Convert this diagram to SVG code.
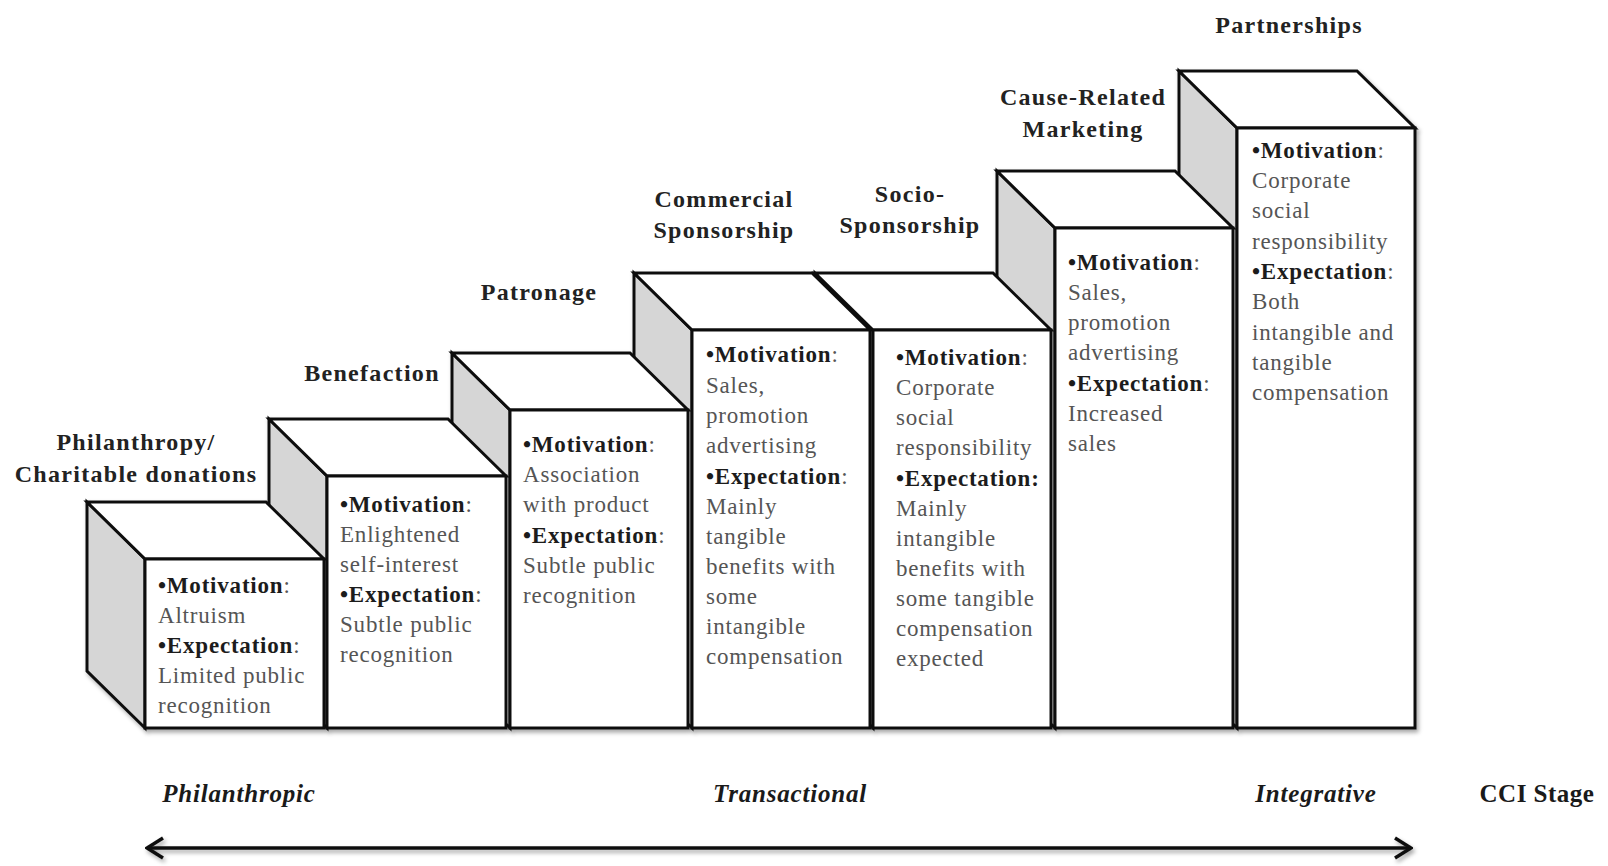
<svg xmlns="http://www.w3.org/2000/svg" width="1608" height="866" viewBox="0 0 1608 866">
<style>
.top{fill:#ffffff;stroke:#111;stroke-width:3;stroke-linejoin:miter}
.side{fill:#d6d6d6;stroke:#111;stroke-width:3}
.front{fill:#ffffff;stroke:#111;stroke-width:3}
.body{font-family:"Liberation Serif","Times New Roman",serif;font-size:23px;fill:#555;letter-spacing:0.8px}
.b{font-weight:bold;fill:#1c1c1c}
.title{font-family:"Liberation Serif","Times New Roman",serif;font-size:24px;font-weight:bold;fill:#222;letter-spacing:1.3px;text-anchor:middle}
.stage{font-family:"Liberation Serif","Times New Roman",serif;font-size:25px;font-weight:bold;font-style:italic;fill:#1a1a1a;letter-spacing:0.8px;text-anchor:middle}
.cci{font-family:"Liberation Serif","Times New Roman",serif;font-size:25px;font-weight:bold;fill:#1a1a1a;letter-spacing:0.5px;text-anchor:middle}
</style>
<defs>
<filter id="sh" x="-5%" y="-5%" width="110%" height="115%">
<feDropShadow dx="2" dy="3" stdDeviation="2" flood-color="#000" flood-opacity="0.35"/>
</filter>
<filter id="shA" filterUnits="userSpaceOnUse" x="120" y="820" width="1320" height="46">
<feDropShadow dx="2" dy="3" stdDeviation="2" flood-color="#000" flood-opacity="0.35"/>
</filter>
<marker id="chev" viewBox="0 0 20 24" refX="18" refY="12" markerWidth="20" markerHeight="24" markerUnits="userSpaceOnUse" orient="auto-start-reverse">
<polyline points="2,2 18,12 2,22" fill="none" stroke="#111" stroke-width="3.5" stroke-linejoin="miter"/>
</marker>
</defs>

<g id="boxes" filter="url(#sh)">
<g id="box7">
<polygon class="side" points="1179,71 1237,128 1237,728 1179,671"/>
<polygon class="top" points="1179,71 1357,71 1415,128 1237,128"/>
<rect class="front" x="1237" y="128" width="178" height="600"/>
</g>
<g id="box6">
<polygon class="side" points="997,171 1055,228 1055,728 997,671"/>
<polygon class="top" points="997,171 1175,171 1233,228 1055,228"/>
<rect class="front" x="1055" y="228" width="178" height="500"/>
</g>
<g id="box5">
<polygon class="side" points="815,273 873,330 873,728 815,671"/>
<polygon class="top" points="815,273 993,273 1051,330 873,330"/>
<rect class="front" x="873" y="330" width="178" height="398"/>
</g>
<g id="box4">
<polygon class="side" points="634,273 692,330 692,728 634,671"/>
<polygon class="top" points="634,273 812,273 870,330 692,330"/>
<rect class="front" x="692" y="330" width="178" height="398"/>
</g>
<g id="box3">
<polygon class="side" points="452,353 510,410 510,728 452,671"/>
<polygon class="top" points="452,353 630,353 688,410 510,410"/>
<rect class="front" x="510" y="410" width="178" height="318"/>
</g>
<g id="box2">
<polygon class="side" points="269,419 327,476 327,728 269,671"/>
<polygon class="top" points="269,419 448,419 506,476 327,476"/>
<rect class="front" x="327" y="476" width="179" height="252"/>
</g>
<g id="box1">
<polygon class="side" points="87,502 145,559 145,728 87,671"/>
<polygon class="top" points="87,502 266,502 324,559 145,559"/>
<rect class="front" x="145" y="559" width="179" height="169"/>
</g>
</g>

<g id="box1-text" class="body">
<text x="158" y="593"><tspan class="b">•Motivation</tspan>:</text>
<text x="158" y="623">Altruism</text>
<text x="158" y="653"><tspan class="b">•Expectation</tspan>:</text>
<text x="158" y="683">Limited public</text>
<text x="158" y="713">recognition</text>
</g>
<g id="box2-text" class="body">
<text x="340" y="512"><tspan class="b">•Motivation</tspan>:</text>
<text x="340" y="542">Enlightened</text>
<text x="340" y="572">self-interest</text>
<text x="340" y="602"><tspan class="b">•Expectation</tspan>:</text>
<text x="340" y="632">Subtle public</text>
<text x="340" y="662">recognition</text>
</g>
<g id="box3-text" class="body">
<text x="523" y="452"><tspan class="b">•Motivation</tspan>:</text>
<text x="523" y="482">Association</text>
<text x="523" y="512">with product</text>
<text x="523" y="543"><tspan class="b">•Expectation</tspan>:</text>
<text x="523" y="573">Subtle public</text>
<text x="523" y="603">recognition</text>
</g>
<g id="box4-text" class="body">
<text x="706" y="362"><tspan class="b">•Motivation</tspan>:</text>
<text x="706" y="393">Sales,</text>
<text x="706" y="423">promotion</text>
<text x="706" y="453">advertising</text>
<text x="706" y="484"><tspan class="b">•Expectation</tspan>:</text>
<text x="706" y="514">Mainly</text>
<text x="706" y="544">tangible</text>
<text x="706" y="574">benefits with</text>
<text x="706" y="604">some</text>
<text x="706" y="634">intangible</text>
<text x="706" y="664">compensation</text>
</g>
<g id="box5-text" class="body">
<text x="896" y="365"><tspan class="b">•Motivation</tspan>:</text>
<text x="896" y="395">Corporate</text>
<text x="896" y="425">social</text>
<text x="896" y="455">responsibility</text>
<text x="896" y="486"><tspan class="b">•Expectation:</tspan></text>
<text x="896" y="516">Mainly</text>
<text x="896" y="546">intangible</text>
<text x="896" y="576">benefits with</text>
<text x="896" y="606">some tangible</text>
<text x="896" y="636">compensation</text>
<text x="896" y="666">expected</text>
</g>
<g id="box6-text" class="body">
<text x="1068" y="270"><tspan class="b">•Motivation</tspan>:</text>
<text x="1068" y="300">Sales,</text>
<text x="1068" y="330">promotion</text>
<text x="1068" y="360">advertising</text>
<text x="1068" y="391"><tspan class="b">•Expectation</tspan>:</text>
<text x="1068" y="421">Increased</text>
<text x="1068" y="451">sales</text>
</g>
<g id="box7-text" class="body">
<text x="1252" y="158"><tspan class="b">•Motivation</tspan>:</text>
<text x="1252" y="188">Corporate</text>
<text x="1252" y="218">social</text>
<text x="1252" y="249">responsibility</text>
<text x="1252" y="279"><tspan class="b">•Expectation</tspan>:</text>
<text x="1252" y="309">Both</text>
<text x="1252" y="340">intangible and</text>
<text x="1252" y="370">tangible</text>
<text x="1252" y="400">compensation</text>
</g>

<g id="titles">
<text class="title" x="136" y="450">Philanthropy/</text>
<text class="title" x="136" y="482">Charitable donations</text>
<text class="title" x="372" y="381">Benefaction</text>
<text class="title" x="539" y="300">Patronage</text>
<text class="title" x="724" y="207">Commercial</text>
<text class="title" x="724" y="238">Sponsorship</text>
<text class="title" x="910" y="202">Socio-</text>
<text class="title" x="910" y="233">Sponsorship</text>
<text class="title" x="1083" y="105">Cause-Related</text>
<text class="title" x="1083" y="137">Marketing</text>
<text class="title" x="1289" y="33">Partnerships</text>
</g>

<g id="stages">
<text class="stage" x="239" y="802">Philanthropic</text>
<text class="stage" x="790" y="802">Transactional</text>
<text class="stage" x="1316" y="802">Integrative</text>
<text class="cci" x="1537" y="802">CCI Stage</text>
</g>

<g id="connectors" filter="url(#shA)">
<line x1="147" y1="848" x2="1411" y2="848" stroke="#111" stroke-width="3.5" marker-start="url(#chev)" marker-end="url(#chev)"/>
</g>
</svg>
